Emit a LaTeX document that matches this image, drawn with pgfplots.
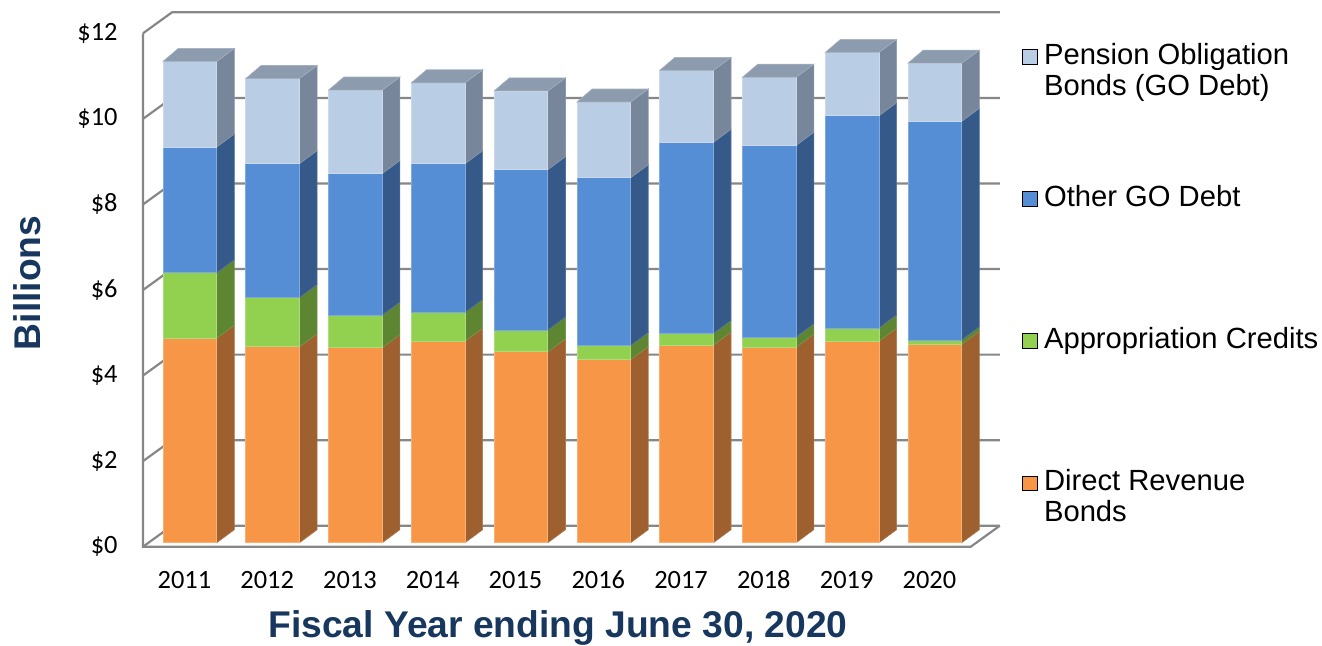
\documentclass[border=0pt]{standalone}
\usepackage{pgfplots}
\pgfplotsset{compat=1.18}
\usepackage{pgfplotstable}
\usepackage{fontspec}
\setmainfont{Liberation Sans}
\newfontfamily\calib{Carlito}
\definecolor{orF}{HTML}{F79646}
\definecolor{orS}{HTML}{9D602E}
\definecolor{grF}{HTML}{92D050}
\definecolor{grS}{HTML}{5E8532}
\definecolor{blF}{HTML}{558ED5}
\definecolor{blS}{HTML}{355A8A}
\definecolor{lbF}{HTML}{B9CDE5}
\definecolor{lbS}{HTML}{77869A}
\definecolor{lbT}{HTML}{8D9BAE}
\definecolor{gridc}{HTML}{878787}
\definecolor{titc}{HTML}{17375E}

\pgfplotstableread{
year DRB AC GO POB
2011 4.78 1.53 2.94 2.00
2012 4.58 1.15 3.13 1.99
2013 4.56 0.76 3.31 1.95
2014 4.71 0.67 3.48 1.89
2015 4.46 0.51 3.75 1.84
2016 4.28 0.33 3.92 1.77
2017 4.62 0.27 4.47 1.68
2018 4.57 0.24 4.48 1.59
2019 4.71 0.31 4.96 1.48
2020 4.64 0.10 5.11 1.36
}\debt

% 3-D geometry (axis units)
\def\ox{0.0664}\def\oy{0.0935}\def\bw{0.649}
\def\dxr{0.2126}\def\dxl{0.184}\def\dyb{0.304}
\def\wdx{0.35}\def\wdy{0.49}

\newcommand\faces[5]{% #1 idx, #2 lo, #3 hi, #4 front, #5 side
  \pgfmathsetmacro\xl{#1+\ox-\bw/2}%
  \pgfmathsetmacro\xr{#1+\ox+\bw/2}%
  \pgfmathsetmacro\xs{\xr+\dxr}%
  \pgfmathsetmacro\yl{#2+\oy}%
  \pgfmathsetmacro\yh{#3+\oy}%
  \pgfmathsetmacro\yls{\yl+\dyb}%
  \pgfmathsetmacro\yhs{\yh+\dyb}%
  \edef\tmp{%
   \noexpand\addplot[forget plot, fill=#5, draw=#5!85!white, line width=0.3pt]
     coordinates {(\xr,\yl) (\xs,\yls) (\xs,\yhs) (\xr,\yh)} -- cycle;
   \noexpand\addplot[forget plot, fill=#4, draw=#4!75!white, line width=0.4pt]
     coordinates {(\xl,\yl) (\xr,\yl) (\xr,\yh) (\xl,\yh)} -- cycle;
  }\tmp
}
\newcommand\topface[2]{% #1 idx, #2 top
  \pgfmathsetmacro\xl{#1+\ox-\bw/2}%
  \pgfmathsetmacro\xr{#1+\ox+\bw/2}%
  \pgfmathsetmacro\xls{\xl+\dxl}%
  \pgfmathsetmacro\xrs{\xr+\dxr}%
  \pgfmathsetmacro\yt{#2+\oy}%
  \pgfmathsetmacro\yts{\yt+\dyb}%
  \edef\tmp{%
   \noexpand\addplot[forget plot, fill=lbT, draw=lbT!80!white, line width=0.3pt]
     coordinates {(\xl,\yt) (\xr,\yt) (\xrs,\yts) (\xls,\yts)} -- cycle;
  }\tmp
}

\begin{document}
\begin{tikzpicture}
\path[use as bounding box] (0,0) rectangle (661pt,322.5pt);
\begin{axis}[
  scale only axis, width=413.9pt, height=256.7pt,
  at={(71.5pt,49.15pt)}, anchor=south west,
  xmin=-0.5, xmax=9.5, ymin=0, ymax=12,
  enlargelimits=false, clip=false,
  axis line style={draw=none}, tick style={draw=none}, major tick length=0pt,
  xtick={0,1,2,3,4,5,6,7,8,9},
  xticklabels={2011,2012,2013,2014,2015,2016,2017,2018,2019,2020},
  ytick={0,2,4,6,8,10,12},
  yticklabels={\$0,\$2,\$4,\$6,\$8,\$10,\$12},
  tick label style={font=\calib\fontsize{13.2}{15}\selectfont, text=black},
  xticklabel style={anchor=base, inner sep=0pt, yshift=-20.8pt},
  yticklabel style={anchor=east, inner sep=0pt, xshift=-12.5pt},
  xlabel={Fiscal Year ending June 30, 2020},
  ylabel={Billions},
  label style={font=\bfseries\fontsize{18.6}{22}\selectfont, text=titc},
  xlabel style={at={(axis description cs:0.5013,-0.1778)}, anchor=base},
  ylabel style={at={(axis description cs:-0.1395,0.5136)}, anchor=center},
  legend style={at={(axis description cs:1.0619,0.9698)}, anchor=north west,
    draw=none, fill=none, inner sep=0pt, row sep=62pt,
    font=\fontsize{14.6}{15.5}\selectfont,
    nodes={inner xsep=3.15pt, inner ysep=0pt}},
  legend cell align=left,
  legend image code/.code={\fill[#1] (0pt,0.85pt) rectangle (7.25pt,8.1pt);},
]
% legend
\addlegendimage{fill=lbF}
\addlegendentry{\smash{\vtop{\hbox{Pension Obligation}\hbox{Bonds (GO Debt)}}}}
\addlegendimage{fill=blF}
\addlegendentry{\smash{Other GO Debt}}
\addlegendimage{fill=grF}
\addlegendentry{\smash{Appropriation Credits}}
\addlegendimage{fill=orF}
\addlegendentry{\smash{\vtop{\hbox{Direct Revenue}\hbox{Bonds}}}}

% walls and gridlines
\pgfplotsinvokeforeach{0,2,4,6,8,10,12}{%
  \pgfmathsetmacro\gy{#1+\wdy}%
  \pgfmathsetmacro\gxl{-0.5+\wdx}%
  \pgfmathsetmacro\gxr{9.5+\wdx}%
  \edef\tmp{\noexpand\addplot[forget plot, gridc, line width=1.1pt]
    coordinates {(-0.5,#1) (\gxl,\gy) (\gxr,\gy)};}\tmp
}
\addplot[forget plot, gridc, line width=1.1pt] coordinates {(-0.5,12) (-0.5,0) (9.5,0) (9.85,0.49)};

% bars
\pgfplotsinvokeforeach{0,...,9}{%
  \pgfplotstablegetelem{#1}{DRB}\of\debt \let\va\pgfplotsretval
  \pgfplotstablegetelem{#1}{AC}\of\debt \let\vb\pgfplotsretval
  \pgfplotstablegetelem{#1}{GO}\of\debt \let\vc\pgfplotsretval
  \pgfplotstablegetelem{#1}{POB}\of\debt \let\vd\pgfplotsretval
  \pgfmathsetmacro\ca{\va}%
  \pgfmathsetmacro\cb{\ca+\vb}%
  \pgfmathsetmacro\cc{\cb+\vc}%
  \pgfmathsetmacro\cd{\cc+\vd}%
  \faces{#1}{0}{\ca}{orF}{orS}%
  \faces{#1}{\ca}{\cb}{grF}{grS}%
  \faces{#1}{\cb}{\cc}{blF}{blS}%
  \faces{#1}{\cc}{\cd}{lbF}{lbS}%
  \topface{#1}{\cd}%
}
\end{axis}
\end{tikzpicture}
\end{document}
